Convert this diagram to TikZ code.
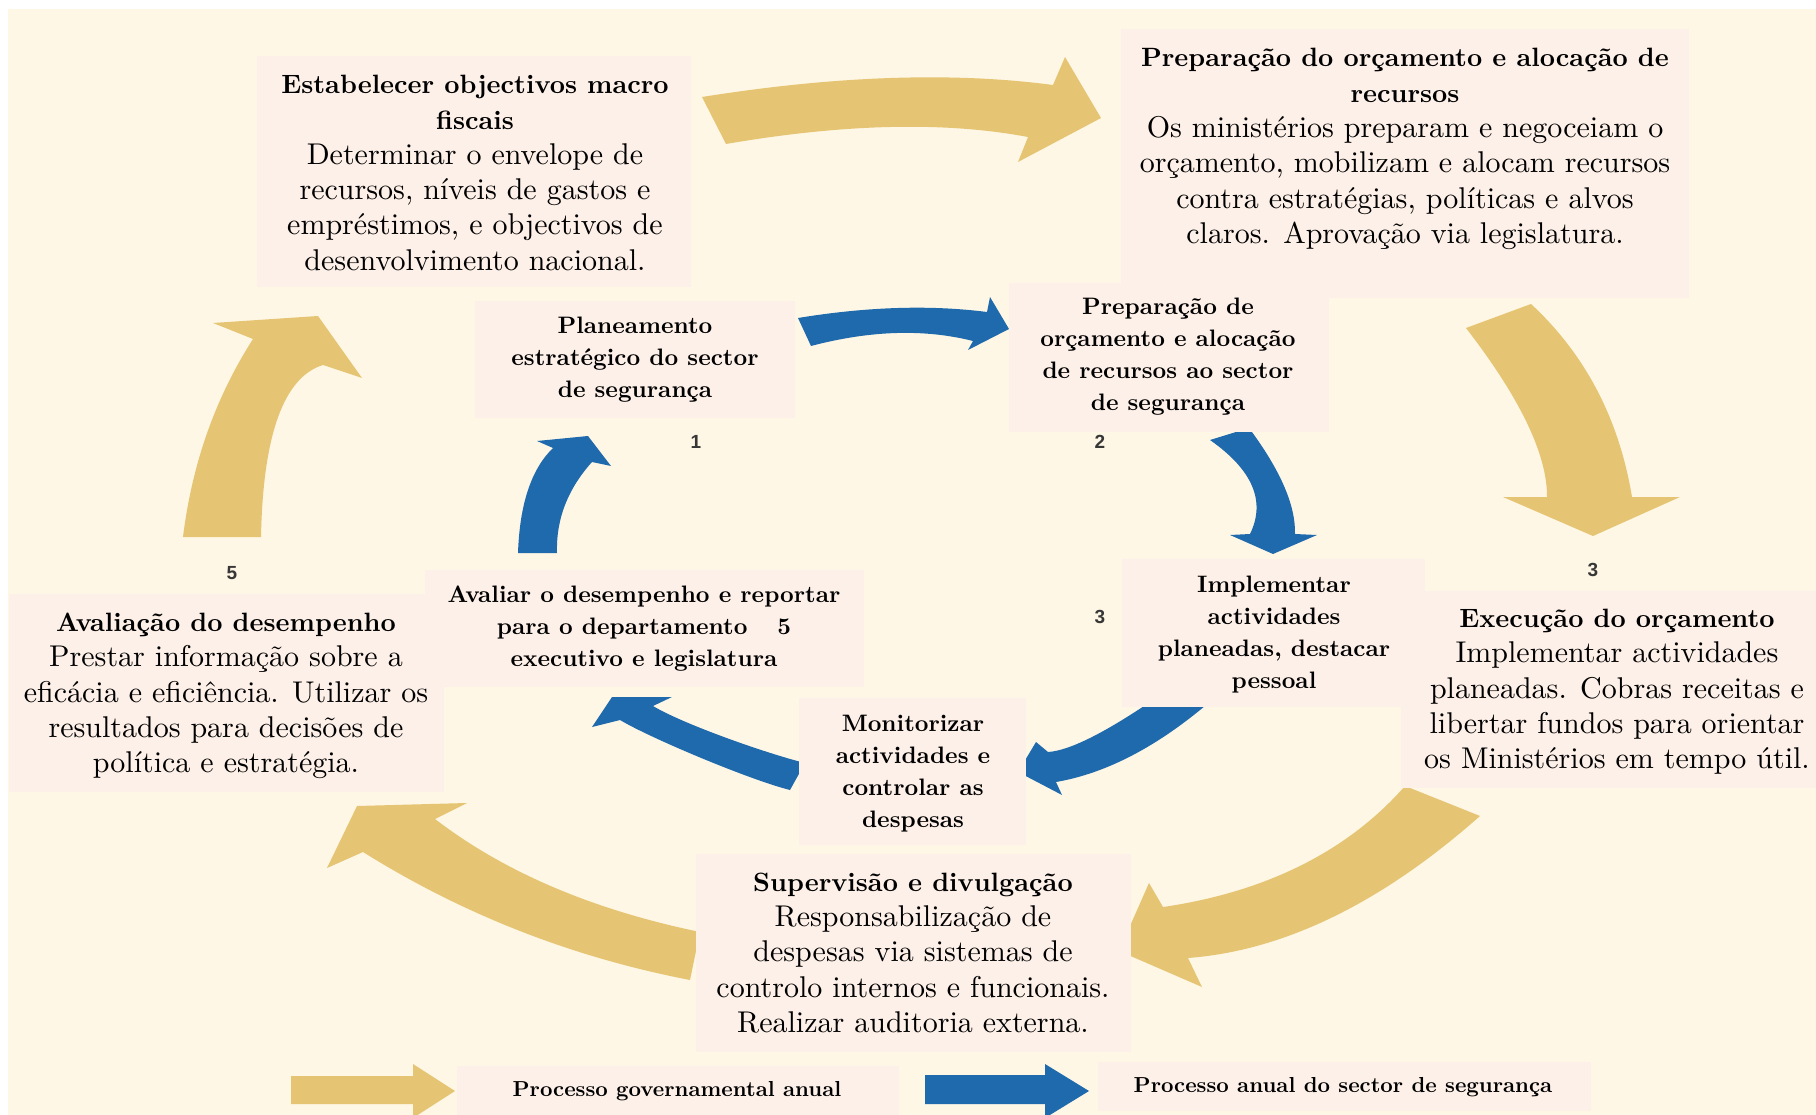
\documentclass[tikz,border=0pt]{standalone}
\usepackage{fontspec}
\setmainfont{lmroman10-regular}[Extension=.otf, BoldFont=lmroman10-bold]
\newfontfamily\numfont{Liberation Sans}
\usetikzlibrary{fit}
\definecolor{cream}{RGB}{255,247,229}
\definecolor{boxpink}{RGB}{253,240,232}
\definecolor{gold}{RGB}{229,197,115}
\definecolor{blueA}{RGB}{31,106,173}
\definecolor{numgray}{RGB}{55,55,55}
\newcommand{\hd}{\fontsize{26.5}{35.3}\selectfont\bfseries}
\begin{document}
\begin{tikzpicture}[x=1pt,y=-1pt,
  box/.style={fill=boxpink,draw=none,inner sep=0pt},
  body/.style={align=center,inner sep=0pt,font=\fontsize{30}{35.3}\selectfont},
  small/.style={align=center,inner sep=0pt,font=\fontsize{23.8}{32}\selectfont\bfseries},
  legend/.style={align=center,inner sep=0pt,font=\fontsize{21.7}{26}\selectfont\bfseries},
  num/.style={inner sep=0pt,text=numgray,font=\fontsize{19}{22}\numfont\bfseries},
  garrow/.style={fill=gold},
  barrow/.style={fill=blueA}]
\useasboundingbox (0,0) rectangle (1816,1115);
\fill[white] (0,0) rectangle (1816,1115);
\fill[cream] (8,9) rectangle (1816,1115);

% ---- gold (government) arrows ----
\fill[garrow] (702,97) .. controls (835.7,75.7) and (952.7,71.7) .. (1053,85) -- (1065,57) -- (1101,118) -- (1018,162) -- (1028,137) .. controls (944.7,121.3) and (844,123.7) .. (726,144) -- cycle;
\fill[garrow] (1466,328) -- (1531,304) .. controls (1585.3,354.3) and (1619,418.7) .. (1632,497) -- (1680,497) -- (1593,536) -- (1503,497) -- (1547,497) .. controls (1547.3,454.7) and (1520.3,398.3) .. (1466,328) -- cycle;
\fill[garrow] (1405,786) -- (1480,816) .. controls (1381.3,903.3) and (1284,950.7) .. (1188,958) -- (1202,987) -- (1119,951) -- (1149,883) -- (1163,907) .. controls (1261.7,892.7) and (1345.7,853.7) .. (1405,786) -- cycle;
\fill[garrow] (700,932) .. controls (592.3,909.7) and (504,872) .. (435,819) -- (467,803) -- (357,806) -- (327,868) -- (363,852) .. controls (463.3,914.7) and (572.3,957.3) .. (690,980) -- cycle;
\fill[garrow] (183,537) -- (261,537) .. controls (263,434.3) and (284,377) .. (323,365) -- (362,378) -- (318,316) -- (213,323) -- (253,339) .. controls (215,398.3) and (192,464.3) .. (183,537) -- cycle;

% ---- blue (security sector) arrows ----
\fill[barrow] (798,318) .. controls (867,306.7) and (930,304.7) .. (987,312) -- (990,297) -- (1009,329) -- (968,350) -- (973,341) .. controls (925.3,329) and (871.7,330) .. (811,346) -- cycle;
\fill[barrow] (1210,440) -- (1249,428) .. controls (1280.3,470) and (1295.7,505.3) .. (1295,534) -- (1317,535) -- (1273,554) -- (1230,535) -- (1250,534) .. controls (1266,501.3) and (1252.7,470) .. (1210,440) -- cycle;
\fill[barrow] (1153,700) .. controls (1104,733.3) and (1069,750.7) .. (1048,752) -- (1036,742) -- (1018,772) -- (1062,795) -- (1056,782) .. controls (1106.7,773.3) and (1158.7,746) .. (1212,700) -- cycle;
\fill[barrow] (805,763) .. controls (765,753) and (683,724) .. (653,706) -- (672,697) -- (612,697) -- (592,727) -- (620,720) .. controls (650,738) and (750,780) .. (790,790) -- cycle;
\fill[barrow] (518,553) -- (557,553) .. controls (556,519.3) and (567.7,489) .. (592,462) -- (611,466) -- (588,436) -- (537,441) -- (553,448) .. controls (531.3,469) and (519.7,504) .. (518,553) -- cycle;

% ---- legend arrows ----
\fill[garrow] (291,1076) -- (413,1076) -- (413,1064) -- (455,1091) -- (413,1118) -- (413,1104) -- (291,1104) -- cycle;
\fill[barrow] (925,1075) -- (1045,1075) -- (1045,1064) -- (1089,1091) -- (1045,1118) -- (1045,1104) -- (925,1104) -- cycle;

% ---- boxes ----
\node[box, fit={(257,56) (691,287)}] (b1) {};
\node[box, fit={(1121,29) (1689,298)}] (b2) {};
\node[box, fit={(475,301) (795,418)}] (b3) {};
\node[box, fit={(1009,283) (1329,432)}] (b4) {};
\node[box, fit={(9,594) (444,792)}] (b5) {};
\node[box, fit={(425,570) (864,687)}] (b6) {};
\node[box, fit={(799,698) (1026,845)}] (b7) {};
\node[box, fit={(1401,591) (1816,788)}] (b9) {};
\node[box, fit={(1122,559) (1425,707)}] (b8) {};
\node[box, fit={(696,854) (1131,1052)}] (b10) {};
\node[box, fit={(457,1066) (899,1115)}] (l1) {};
\node[box, fit={(1098,1062) (1591,1111)}] (l2) {};

% ---- texts ----
\node[body] (t1) at (475,173) {{\hd Estabelecer objectivos macro}\\{\hd fiscais}\\Determinar o envelope de\\recursos, níveis de gastos e\\empréstimos, e objectivos de\\desenvolvimento nacional.};
\node[body] (t2) at (1405,149) {{\hd Preparação do orçamento e alocação de}\\{\hd recursos}\\Os ministérios preparam e negoceiam o\\orçamento, mobilizam e alocam recursos\\contra estratégias, políticas e alvos\\claros. Aprovação via legislatura.};
\node[small] (t3) at (635,360) {Planeamento\\estratégico do sector\\de segurança};
\node[small] (t4) at (1168,357) {Preparação de\\orçamento e alocação\\de recursos ao sector\\de segurança};
\node[body] (t5) at (226,696) {{\hd Avaliação do desempenho}\\Prestar informação sobre a\\eficácia e eficiência. Utilizar os\\resultados para decisões de\\política e estratégia.};
\node[small] (t6) at (644,629) {Avaliar o desempenho e reportar\\para o departamento\hspace{30pt}5\\executivo e legislatura};
\node[small] (t7) at (913,774) {Monitorizar\\actividades e\\controlar as\\despesas};
\node[small] (t8) at (1274,635) {Implementar\\actividades\\planeadas, destacar\\pessoal};
\node[body] (t9) at (1617,692) {{\hd Execução do orçamento}\\Implementar actividades\\planeadas. Cobras receitas e\\libertar fundos para orientar\\os Ministérios em tempo útil.};
\node[body] (t10) at (913,953) {{\hd Supervisão e divulgação}\\Responsabilização de\\despesas via sistemas de\\controlo internos e funcionais.\\Realizar auditoria externa.};
\node[legend] (tl1) at (677,1091) {Processo governamental anual};
\node[legend] (tl2) at (1343,1087) {Processo anual do sector de segurança};

% ---- numbers ----
\node[num] (n1) at (696,442) {1};
\node[num] (n2) at (1100,442) {2};
\node[num] (n3a) at (1100,617) {3};
\node[num] (n3b) at (1593,570) {3};
\node[num] (n5) at (232,573) {5};
\end{tikzpicture}
\end{document}
